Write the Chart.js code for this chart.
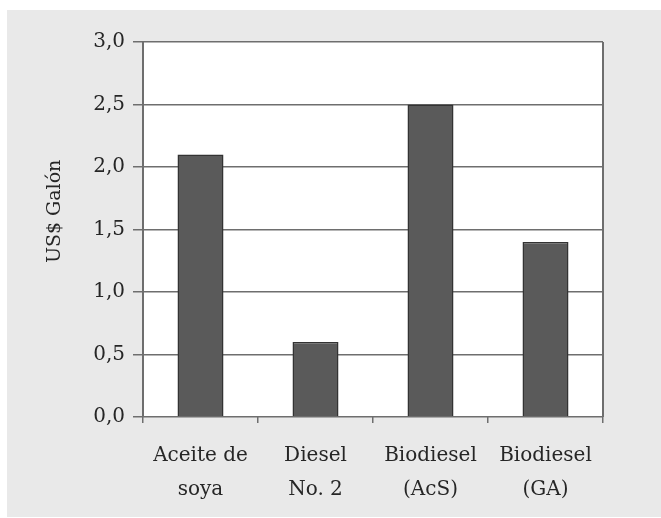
<!DOCTYPE html>
<html>
<head>
<meta charset="utf-8">
<script src="https://cdn.jsdelivr.net/npm/chart.js@4.4.1/dist/chart.umd.min.js"></script>
<style>
  html, body { margin: 0; padding: 0; background: #ffffff; }
  #wrap { position: relative; width: 661px; height: 518px; }
  #panel { position: absolute; left: 7px; top: 10px; width: 654px; height: 507px; background: #e9e9e9; }
  canvas { position: absolute; left: 0; top: 0; }
</style>
</head>
<body>
<div id="wrap">
  <div id="panel"></div>
  <canvas id="chart" width="661" height="518"></canvas>
</div>
<script>
// Precio por galón de cada combustible
const categories = [["Aceite de", "soya"], ["Diesel", "No. 2"], ["Biodiesel", "(AcS)"], ["Biodiesel", "(GA)"]];
const prices = [2.1, 0.6, 2.5, 1.4];
const yTitle = "US$ Galón";

const fontFamily = "'DejaVu Serif', 'Liberation Serif', serif";
const textColor = "#262626";
const lineColor = "#6e6e6e";

// white plot area plus right-hand frame line
const plotFrame = {
  id: "plotFrame",
  beforeDraw(chart) {
    const { ctx, chartArea: a } = chart;
    ctx.save();
    ctx.fillStyle = "#ffffff";
    ctx.fillRect(a.left, a.top, a.right - a.left, a.bottom - a.top);
    ctx.restore();
  },
  afterDraw(chart) {
    const { ctx, chartArea: a } = chart;
    ctx.save();
    ctx.strokeStyle = lineColor;
    ctx.lineWidth = 2;
    ctx.beginPath();
    ctx.moveTo(a.right, a.top);
    ctx.lineTo(a.right, a.bottom);
    ctx.stroke();
    ctx.restore();
  }
};

new Chart(document.getElementById("chart"), {
  type: "bar",
  data: {
    labels: categories,
    datasets: [{
      data: prices,
      backgroundColor: "#5a5a5a",
      borderColor: "#333333",
      borderWidth: 1.5,
      barPercentage: 0.4,
      categoryPercentage: 1.0
    }]
  },
  options: {
    responsive: false,
    animation: false,
    layout: { padding: { left: 0, right: 58, top: 42, bottom: 0 } },
    plugins: { legend: { display: false }, tooltip: { enabled: false } },
    scales: {
      x: {
        offset: true,
        grid: { offset: true, drawOnChartArea: false, drawTicks: true, tickLength: 6, color: lineColor, lineWidth: 1.5 },
        border: { display: false },
        ticks: {
          color: textColor,
          padding: 16,
          maxRotation: 0,
          autoSkip: false,
          font: { family: fontFamily, size: 20, lineHeight: 1.7 }
        },
        afterFit(scale) { scale.width = scale.width; scale.height = 101; }
      },
      y: {
        min: 0,
        max: 3,
        ticks: {
          stepSize: 0.5,
          color: textColor,
          padding: 8,
          font: { family: fontFamily, size: 20 },
          callback: (v) => v.toFixed(1).replace(".", ",")
        },
        grid: { color: lineColor, lineWidth: 1.5, tickLength: 10 },
        border: { display: true, color: lineColor, width: 2 },
        title: {
          display: true,
          text: "\u00a0\u00a0\u00a0\u00a0\u00a0\u00a0" + yTitle,
          color: textColor,
          font: { family: fontFamily, size: 19 },
          padding: { top: 44, bottom: 8 }
        },
        afterFit(scale) { scale.width = 143; }
      }
    }
  },
  plugins: [plotFrame]
});
</script>
</body>
</html>
